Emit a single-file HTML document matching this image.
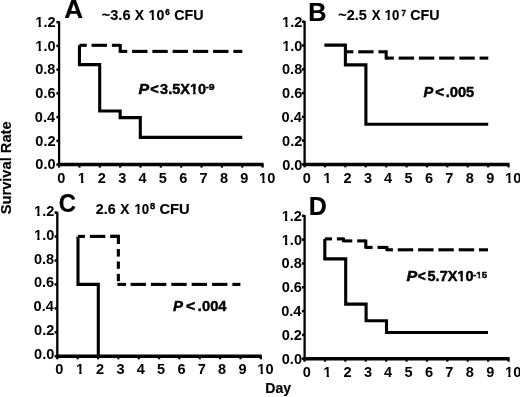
<!DOCTYPE html>
<html><head><meta charset="utf-8"><style>
html,body{margin:0;padding:0;background:#fff;}
body{width:520px;height:397px;overflow:hidden;}
svg{display:block;will-change:transform;}
text{font-family:"Liberation Sans", sans-serif;font-weight:bold;font-kerning:none;font-variant-ligatures:none;fill:#000;stroke:#000;stroke-width:0;}
.t{stroke-width:0.0px;} .ti{stroke-width:0.15px;} .p{stroke-width:0.45px;} .L{stroke-width:0.2px;} .ax{stroke-width:0.15px;} .sup{stroke-width:0.4px;}
</style></head><body>
<svg width="520" height="397" viewBox="0 0 520 397">
<rect width="520" height="397" fill="#fff"/>
<g stroke="#000" fill="#000">
<line x1="59.10" y1="21.36" x2="59.10" y2="166.35" stroke-width="2.3"/>
<line x1="57.95" y1="164.60" x2="263.60" y2="164.60" stroke-width="3.5"/>
<line x1="56.40" y1="164.60" x2="59.10" y2="164.60" stroke-width="2.5" stroke-linecap="butt"/>
<text x="35.36" y="169.40" font-size="14" textLength="20.24" lengthAdjust="spacingAndGlyphs" class="t">0.0</text>
<line x1="56.40" y1="140.86" x2="59.10" y2="140.86" stroke-width="2.5" stroke-linecap="butt"/>
<text x="35.34" y="145.66" font-size="14" textLength="20.24" lengthAdjust="spacingAndGlyphs" class="t">0.2</text>
<line x1="56.40" y1="117.12" x2="59.10" y2="117.12" stroke-width="2.5" stroke-linecap="butt"/>
<text x="34.84" y="121.92" font-size="14" textLength="20.24" lengthAdjust="spacingAndGlyphs" class="t">0.4</text>
<line x1="56.40" y1="93.38" x2="59.10" y2="93.38" stroke-width="2.5" stroke-linecap="butt"/>
<text x="35.29" y="98.18" font-size="14" textLength="20.24" lengthAdjust="spacingAndGlyphs" class="t">0.6</text>
<line x1="56.40" y1="69.64" x2="59.10" y2="69.64" stroke-width="2.5" stroke-linecap="butt"/>
<text x="35.21" y="74.44" font-size="14" textLength="20.24" lengthAdjust="spacingAndGlyphs" class="t">0.8</text>
<line x1="56.40" y1="45.90" x2="59.10" y2="45.90" stroke-width="2.5" stroke-linecap="butt"/>
<text x="35.36" y="50.70" font-size="14" textLength="20.24" lengthAdjust="spacingAndGlyphs" class="t">1.0</text>
<line x1="56.40" y1="22.16" x2="59.10" y2="22.16" stroke-width="2.5" stroke-linecap="butt"/>
<text x="35.34" y="26.96" font-size="14" textLength="20.24" lengthAdjust="spacingAndGlyphs" class="t">1.2</text>
<line x1="59.10" y1="164.60" x2="59.10" y2="167.60" stroke-width="2.2" stroke-linecap="butt"/>
<text x="57.16" y="183.10" font-size="14" textLength="8.10" lengthAdjust="spacingAndGlyphs" class="t">0</text>
<line x1="79.45" y1="164.60" x2="79.45" y2="167.60" stroke-width="2.2" stroke-linecap="butt"/>
<text x="77.85" y="183.10" font-size="14" textLength="8.10" lengthAdjust="spacingAndGlyphs" class="t">1</text>
<line x1="99.80" y1="164.60" x2="99.80" y2="167.60" stroke-width="2.2" stroke-linecap="butt"/>
<text x="97.89" y="183.10" font-size="14" textLength="8.10" lengthAdjust="spacingAndGlyphs" class="t">2</text>
<line x1="120.15" y1="164.60" x2="120.15" y2="167.60" stroke-width="2.2" stroke-linecap="butt"/>
<text x="118.30" y="183.10" font-size="14" textLength="8.10" lengthAdjust="spacingAndGlyphs" class="t">3</text>
<line x1="140.50" y1="164.60" x2="140.50" y2="167.60" stroke-width="2.2" stroke-linecap="butt"/>
<text x="138.48" y="183.10" font-size="14" textLength="8.10" lengthAdjust="spacingAndGlyphs" class="t">4</text>
<line x1="160.85" y1="164.60" x2="160.85" y2="167.60" stroke-width="2.2" stroke-linecap="butt"/>
<text x="158.88" y="183.10" font-size="14" textLength="8.10" lengthAdjust="spacingAndGlyphs" class="t">5</text>
<line x1="181.20" y1="164.60" x2="181.20" y2="167.60" stroke-width="2.2" stroke-linecap="butt"/>
<text x="179.25" y="183.10" font-size="14" textLength="8.10" lengthAdjust="spacingAndGlyphs" class="t">6</text>
<line x1="201.55" y1="164.60" x2="201.55" y2="167.60" stroke-width="2.2" stroke-linecap="butt"/>
<text x="199.61" y="183.10" font-size="14" textLength="8.10" lengthAdjust="spacingAndGlyphs" class="t">7</text>
<line x1="221.90" y1="164.60" x2="221.90" y2="167.60" stroke-width="2.2" stroke-linecap="butt"/>
<text x="219.94" y="183.10" font-size="14" textLength="8.10" lengthAdjust="spacingAndGlyphs" class="t">8</text>
<line x1="242.25" y1="164.60" x2="242.25" y2="167.60" stroke-width="2.2" stroke-linecap="butt"/>
<text x="240.32" y="183.10" font-size="14" textLength="8.10" lengthAdjust="spacingAndGlyphs" class="t">9</text>
<line x1="262.60" y1="164.60" x2="262.60" y2="167.60" stroke-width="2.2" stroke-linecap="butt"/>
<text x="259.14" y="183.10" font-size="14" textLength="16.20" lengthAdjust="spacingAndGlyphs" class="t">10</text>
<polyline points="79.45,45.20 79.45,64.60 99.70,64.60 99.70,111.00 120.15,111.00 120.15,117.60 140.30,117.60 140.30,137.40 242.30,137.40" fill="none" stroke-width="3.1" stroke-linejoin="miter" stroke-linecap="butt"/>
<line x1="79.45" y1="45.30" x2="86.75" y2="45.30" stroke-width="3.1" stroke-linecap="butt"/>
<line x1="91.60" y1="45.30" x2="107.00" y2="45.30" stroke-width="3.1" stroke-linecap="butt"/>
<line x1="111.85" y1="45.30" x2="120.20" y2="45.30" stroke-width="3.1" stroke-linecap="butt"/>
<line x1="120.20" y1="44.00" x2="120.20" y2="52.80" stroke-width="3.1" stroke-linecap="butt"/>
<line x1="120.20" y1="51.40" x2="127.25" y2="51.40" stroke-width="3.1" stroke-linecap="butt"/>
<line x1="132.10" y1="51.40" x2="147.50" y2="51.40" stroke-width="3.1" stroke-linecap="butt"/>
<line x1="152.35" y1="51.40" x2="167.75" y2="51.40" stroke-width="3.1" stroke-linecap="butt"/>
<line x1="172.60" y1="51.40" x2="188.00" y2="51.40" stroke-width="3.1" stroke-linecap="butt"/>
<line x1="192.85" y1="51.40" x2="208.25" y2="51.40" stroke-width="3.1" stroke-linecap="butt"/>
<line x1="213.10" y1="51.40" x2="228.50" y2="51.40" stroke-width="3.1" stroke-linecap="butt"/>
<line x1="233.35" y1="51.40" x2="242.30" y2="51.40" stroke-width="3.1" stroke-linecap="butt"/>
<line x1="304.60" y1="20.92" x2="304.60" y2="166.15" stroke-width="2.3"/>
<line x1="303.45" y1="164.40" x2="509.50" y2="164.40" stroke-width="3.5"/>
<line x1="301.90" y1="164.40" x2="304.60" y2="164.40" stroke-width="2.5" stroke-linecap="butt"/>
<text x="282.16" y="169.60" font-size="14" textLength="20.24" lengthAdjust="spacingAndGlyphs" class="t">0.0</text>
<line x1="301.90" y1="140.62" x2="304.60" y2="140.62" stroke-width="2.5" stroke-linecap="butt"/>
<text x="282.14" y="145.82" font-size="14" textLength="20.24" lengthAdjust="spacingAndGlyphs" class="t">0.2</text>
<line x1="301.90" y1="116.84" x2="304.60" y2="116.84" stroke-width="2.5" stroke-linecap="butt"/>
<text x="281.64" y="122.04" font-size="14" textLength="20.24" lengthAdjust="spacingAndGlyphs" class="t">0.4</text>
<line x1="301.90" y1="93.06" x2="304.60" y2="93.06" stroke-width="2.5" stroke-linecap="butt"/>
<text x="282.09" y="98.26" font-size="14" textLength="20.24" lengthAdjust="spacingAndGlyphs" class="t">0.6</text>
<line x1="301.90" y1="69.28" x2="304.60" y2="69.28" stroke-width="2.5" stroke-linecap="butt"/>
<text x="282.01" y="74.48" font-size="14" textLength="20.24" lengthAdjust="spacingAndGlyphs" class="t">0.8</text>
<line x1="301.90" y1="45.50" x2="304.60" y2="45.50" stroke-width="2.5" stroke-linecap="butt"/>
<text x="282.16" y="50.70" font-size="14" textLength="20.24" lengthAdjust="spacingAndGlyphs" class="t">1.0</text>
<line x1="301.90" y1="21.72" x2="304.60" y2="21.72" stroke-width="2.5" stroke-linecap="butt"/>
<text x="282.14" y="26.92" font-size="14" textLength="20.24" lengthAdjust="spacingAndGlyphs" class="t">1.2</text>
<line x1="304.60" y1="164.40" x2="304.60" y2="167.40" stroke-width="2.2" stroke-linecap="butt"/>
<text x="302.66" y="183.00" font-size="14" textLength="8.10" lengthAdjust="spacingAndGlyphs" class="t">0</text>
<line x1="324.99" y1="164.40" x2="324.99" y2="167.40" stroke-width="2.2" stroke-linecap="butt"/>
<text x="323.39" y="183.00" font-size="14" textLength="8.10" lengthAdjust="spacingAndGlyphs" class="t">1</text>
<line x1="345.38" y1="164.40" x2="345.38" y2="167.40" stroke-width="2.2" stroke-linecap="butt"/>
<text x="343.47" y="183.00" font-size="14" textLength="8.10" lengthAdjust="spacingAndGlyphs" class="t">2</text>
<line x1="365.77" y1="164.40" x2="365.77" y2="167.40" stroke-width="2.2" stroke-linecap="butt"/>
<text x="363.92" y="183.00" font-size="14" textLength="8.10" lengthAdjust="spacingAndGlyphs" class="t">3</text>
<line x1="386.16" y1="164.40" x2="386.16" y2="167.40" stroke-width="2.2" stroke-linecap="butt"/>
<text x="384.14" y="183.00" font-size="14" textLength="8.10" lengthAdjust="spacingAndGlyphs" class="t">4</text>
<line x1="406.55" y1="164.40" x2="406.55" y2="167.40" stroke-width="2.2" stroke-linecap="butt"/>
<text x="404.58" y="183.00" font-size="14" textLength="8.10" lengthAdjust="spacingAndGlyphs" class="t">5</text>
<line x1="426.94" y1="164.40" x2="426.94" y2="167.40" stroke-width="2.2" stroke-linecap="butt"/>
<text x="424.99" y="183.00" font-size="14" textLength="8.10" lengthAdjust="spacingAndGlyphs" class="t">6</text>
<line x1="447.33" y1="164.40" x2="447.33" y2="167.40" stroke-width="2.2" stroke-linecap="butt"/>
<text x="445.39" y="183.00" font-size="14" textLength="8.10" lengthAdjust="spacingAndGlyphs" class="t">7</text>
<line x1="467.72" y1="164.40" x2="467.72" y2="167.40" stroke-width="2.2" stroke-linecap="butt"/>
<text x="465.76" y="183.00" font-size="14" textLength="8.10" lengthAdjust="spacingAndGlyphs" class="t">8</text>
<line x1="488.11" y1="164.40" x2="488.11" y2="167.40" stroke-width="2.2" stroke-linecap="butt"/>
<text x="486.18" y="183.00" font-size="14" textLength="8.10" lengthAdjust="spacingAndGlyphs" class="t">9</text>
<line x1="508.50" y1="164.40" x2="508.50" y2="167.40" stroke-width="2.2" stroke-linecap="butt"/>
<text x="505.04" y="183.00" font-size="14" textLength="16.20" lengthAdjust="spacingAndGlyphs" class="t">10</text>
<polyline points="324.40,45.10 345.40,45.10 345.40,64.90 365.90,64.90 365.90,124.20 488.20,124.20" fill="none" stroke-width="3.1" stroke-linejoin="miter" stroke-linecap="butt"/>
<line x1="346.70" y1="51.80" x2="353.37" y2="51.80" stroke-width="3.1" stroke-linecap="butt"/>
<line x1="358.20" y1="51.80" x2="373.60" y2="51.80" stroke-width="3.1" stroke-linecap="butt"/>
<line x1="378.43" y1="51.80" x2="386.20" y2="51.80" stroke-width="3.1" stroke-linecap="butt"/>
<line x1="386.20" y1="50.30" x2="386.20" y2="59.60" stroke-width="3.1" stroke-linecap="butt"/>
<line x1="386.20" y1="58.10" x2="393.83" y2="58.10" stroke-width="3.1" stroke-linecap="butt"/>
<line x1="398.66" y1="58.10" x2="414.06" y2="58.10" stroke-width="3.1" stroke-linecap="butt"/>
<line x1="418.89" y1="58.10" x2="434.29" y2="58.10" stroke-width="3.1" stroke-linecap="butt"/>
<line x1="439.12" y1="58.10" x2="454.52" y2="58.10" stroke-width="3.1" stroke-linecap="butt"/>
<line x1="459.35" y1="58.10" x2="474.75" y2="58.10" stroke-width="3.1" stroke-linecap="butt"/>
<line x1="479.58" y1="58.10" x2="488.30" y2="58.10" stroke-width="3.1" stroke-linecap="butt"/>
<line x1="57.30" y1="211.80" x2="57.30" y2="358.05" stroke-width="2.3"/>
<line x1="56.15" y1="356.30" x2="261.80" y2="356.30" stroke-width="3.5"/>
<line x1="54.60" y1="356.30" x2="57.30" y2="356.30" stroke-width="2.5" stroke-linecap="butt"/>
<text x="34.06" y="359.30" font-size="14" textLength="20.24" lengthAdjust="spacingAndGlyphs" class="t">0.0</text>
<line x1="54.60" y1="332.35" x2="57.30" y2="332.35" stroke-width="2.5" stroke-linecap="butt"/>
<text x="34.04" y="335.35" font-size="14" textLength="20.24" lengthAdjust="spacingAndGlyphs" class="t">0.2</text>
<line x1="54.60" y1="308.40" x2="57.30" y2="308.40" stroke-width="2.5" stroke-linecap="butt"/>
<text x="33.54" y="311.40" font-size="14" textLength="20.24" lengthAdjust="spacingAndGlyphs" class="t">0.4</text>
<line x1="54.60" y1="284.45" x2="57.30" y2="284.45" stroke-width="2.5" stroke-linecap="butt"/>
<text x="33.99" y="287.45" font-size="14" textLength="20.24" lengthAdjust="spacingAndGlyphs" class="t">0.6</text>
<line x1="54.60" y1="260.50" x2="57.30" y2="260.50" stroke-width="2.5" stroke-linecap="butt"/>
<text x="33.91" y="263.50" font-size="14" textLength="20.24" lengthAdjust="spacingAndGlyphs" class="t">0.8</text>
<line x1="54.60" y1="236.55" x2="57.30" y2="236.55" stroke-width="2.5" stroke-linecap="butt"/>
<text x="34.06" y="239.55" font-size="14" textLength="20.24" lengthAdjust="spacingAndGlyphs" class="t">1.0</text>
<line x1="54.60" y1="212.60" x2="57.30" y2="212.60" stroke-width="2.5" stroke-linecap="butt"/>
<text x="34.04" y="215.60" font-size="14" textLength="20.24" lengthAdjust="spacingAndGlyphs" class="t">1.2</text>
<line x1="57.30" y1="356.30" x2="57.30" y2="359.30" stroke-width="2.2" stroke-linecap="butt"/>
<text x="55.36" y="374.20" font-size="14" textLength="8.10" lengthAdjust="spacingAndGlyphs" class="t">0</text>
<line x1="77.65" y1="356.30" x2="77.65" y2="359.30" stroke-width="2.2" stroke-linecap="butt"/>
<text x="76.05" y="374.20" font-size="14" textLength="8.10" lengthAdjust="spacingAndGlyphs" class="t">1</text>
<line x1="98.00" y1="356.30" x2="98.00" y2="359.30" stroke-width="2.2" stroke-linecap="butt"/>
<text x="96.09" y="374.20" font-size="14" textLength="8.10" lengthAdjust="spacingAndGlyphs" class="t">2</text>
<line x1="118.35" y1="356.30" x2="118.35" y2="359.30" stroke-width="2.2" stroke-linecap="butt"/>
<text x="116.50" y="374.20" font-size="14" textLength="8.10" lengthAdjust="spacingAndGlyphs" class="t">3</text>
<line x1="138.70" y1="356.30" x2="138.70" y2="359.30" stroke-width="2.2" stroke-linecap="butt"/>
<text x="136.68" y="374.20" font-size="14" textLength="8.10" lengthAdjust="spacingAndGlyphs" class="t">4</text>
<line x1="159.05" y1="356.30" x2="159.05" y2="359.30" stroke-width="2.2" stroke-linecap="butt"/>
<text x="157.08" y="374.20" font-size="14" textLength="8.10" lengthAdjust="spacingAndGlyphs" class="t">5</text>
<line x1="179.40" y1="356.30" x2="179.40" y2="359.30" stroke-width="2.2" stroke-linecap="butt"/>
<text x="177.45" y="374.20" font-size="14" textLength="8.10" lengthAdjust="spacingAndGlyphs" class="t">6</text>
<line x1="199.75" y1="356.30" x2="199.75" y2="359.30" stroke-width="2.2" stroke-linecap="butt"/>
<text x="197.81" y="374.20" font-size="14" textLength="8.10" lengthAdjust="spacingAndGlyphs" class="t">7</text>
<line x1="220.10" y1="356.30" x2="220.10" y2="359.30" stroke-width="2.2" stroke-linecap="butt"/>
<text x="218.14" y="374.20" font-size="14" textLength="8.10" lengthAdjust="spacingAndGlyphs" class="t">8</text>
<line x1="240.45" y1="356.30" x2="240.45" y2="359.30" stroke-width="2.2" stroke-linecap="butt"/>
<text x="238.52" y="374.20" font-size="14" textLength="8.10" lengthAdjust="spacingAndGlyphs" class="t">9</text>
<line x1="260.80" y1="356.30" x2="260.80" y2="359.30" stroke-width="2.2" stroke-linecap="butt"/>
<text x="257.34" y="374.20" font-size="14" textLength="16.20" lengthAdjust="spacingAndGlyphs" class="t">10</text>
<polyline points="78.00,236.40 78.00,284.40 98.30,284.40 98.30,356.20" fill="none" stroke-width="3.1" stroke-linejoin="miter" stroke-linecap="butt"/>
<line x1="78.00" y1="236.40" x2="84.95" y2="236.40" stroke-width="3.1" stroke-linecap="butt"/>
<line x1="89.90" y1="236.40" x2="105.30" y2="236.40" stroke-width="3.1" stroke-linecap="butt"/>
<line x1="110.25" y1="236.40" x2="118.40" y2="236.40" stroke-width="3.1" stroke-linecap="butt"/>
<polyline points="110.60,236.40 118.40,236.40 118.40,244.00" fill="none" stroke-width="3.1" stroke-linejoin="miter" stroke-linecap="butt"/>
<line x1="118.35" y1="249.00" x2="118.35" y2="256.60" stroke-width="3.1" stroke-linecap="butt"/>
<line x1="118.35" y1="261.50" x2="118.35" y2="268.80" stroke-width="3.1" stroke-linecap="butt"/>
<line x1="118.35" y1="273.90" x2="118.35" y2="281.20" stroke-width="3.1" stroke-linecap="butt"/>
<line x1="117.40" y1="284.40" x2="126.00" y2="284.40" stroke-width="3.1" stroke-linecap="butt"/>
<line x1="130.60" y1="284.40" x2="146.00" y2="284.40" stroke-width="3.1" stroke-linecap="butt"/>
<line x1="150.95" y1="284.40" x2="166.35" y2="284.40" stroke-width="3.1" stroke-linecap="butt"/>
<line x1="171.30" y1="284.40" x2="186.70" y2="284.40" stroke-width="3.1" stroke-linecap="butt"/>
<line x1="191.65" y1="284.40" x2="207.05" y2="284.40" stroke-width="3.1" stroke-linecap="butt"/>
<line x1="212.00" y1="284.40" x2="227.40" y2="284.40" stroke-width="3.1" stroke-linecap="butt"/>
<line x1="232.35" y1="284.40" x2="240.40" y2="284.40" stroke-width="3.1" stroke-linecap="butt"/>
<line x1="304.60" y1="214.98" x2="304.60" y2="360.45" stroke-width="2.3"/>
<line x1="303.45" y1="358.70" x2="509.50" y2="358.70" stroke-width="3.5"/>
<line x1="301.90" y1="358.70" x2="304.60" y2="358.70" stroke-width="2.5" stroke-linecap="butt"/>
<text x="281.76" y="363.70" font-size="14" textLength="20.24" lengthAdjust="spacingAndGlyphs" class="t">0.0</text>
<line x1="301.90" y1="334.88" x2="304.60" y2="334.88" stroke-width="2.5" stroke-linecap="butt"/>
<text x="281.74" y="339.88" font-size="14" textLength="20.24" lengthAdjust="spacingAndGlyphs" class="t">0.2</text>
<line x1="301.90" y1="311.06" x2="304.60" y2="311.06" stroke-width="2.5" stroke-linecap="butt"/>
<text x="281.24" y="316.06" font-size="14" textLength="20.24" lengthAdjust="spacingAndGlyphs" class="t">0.4</text>
<line x1="301.90" y1="287.24" x2="304.60" y2="287.24" stroke-width="2.5" stroke-linecap="butt"/>
<text x="281.69" y="292.24" font-size="14" textLength="20.24" lengthAdjust="spacingAndGlyphs" class="t">0.6</text>
<line x1="301.90" y1="263.42" x2="304.60" y2="263.42" stroke-width="2.5" stroke-linecap="butt"/>
<text x="281.61" y="268.42" font-size="14" textLength="20.24" lengthAdjust="spacingAndGlyphs" class="t">0.8</text>
<line x1="301.90" y1="239.60" x2="304.60" y2="239.60" stroke-width="2.5" stroke-linecap="butt"/>
<text x="281.76" y="244.60" font-size="14" textLength="20.24" lengthAdjust="spacingAndGlyphs" class="t">1.0</text>
<line x1="301.90" y1="215.78" x2="304.60" y2="215.78" stroke-width="2.5" stroke-linecap="butt"/>
<text x="281.74" y="220.78" font-size="14" textLength="20.24" lengthAdjust="spacingAndGlyphs" class="t">1.2</text>
<line x1="304.60" y1="358.70" x2="304.60" y2="361.70" stroke-width="2.2" stroke-linecap="butt"/>
<text x="302.66" y="376.50" font-size="14" textLength="8.10" lengthAdjust="spacingAndGlyphs" class="t">0</text>
<line x1="324.99" y1="358.70" x2="324.99" y2="361.70" stroke-width="2.2" stroke-linecap="butt"/>
<text x="323.39" y="376.50" font-size="14" textLength="8.10" lengthAdjust="spacingAndGlyphs" class="t">1</text>
<line x1="345.38" y1="358.70" x2="345.38" y2="361.70" stroke-width="2.2" stroke-linecap="butt"/>
<text x="343.47" y="376.50" font-size="14" textLength="8.10" lengthAdjust="spacingAndGlyphs" class="t">2</text>
<line x1="365.77" y1="358.70" x2="365.77" y2="361.70" stroke-width="2.2" stroke-linecap="butt"/>
<text x="363.92" y="376.50" font-size="14" textLength="8.10" lengthAdjust="spacingAndGlyphs" class="t">3</text>
<line x1="386.16" y1="358.70" x2="386.16" y2="361.70" stroke-width="2.2" stroke-linecap="butt"/>
<text x="384.14" y="376.50" font-size="14" textLength="8.10" lengthAdjust="spacingAndGlyphs" class="t">4</text>
<line x1="406.55" y1="358.70" x2="406.55" y2="361.70" stroke-width="2.2" stroke-linecap="butt"/>
<text x="404.58" y="376.50" font-size="14" textLength="8.10" lengthAdjust="spacingAndGlyphs" class="t">5</text>
<line x1="426.94" y1="358.70" x2="426.94" y2="361.70" stroke-width="2.2" stroke-linecap="butt"/>
<text x="424.99" y="376.50" font-size="14" textLength="8.10" lengthAdjust="spacingAndGlyphs" class="t">6</text>
<line x1="447.33" y1="358.70" x2="447.33" y2="361.70" stroke-width="2.2" stroke-linecap="butt"/>
<text x="445.39" y="376.50" font-size="14" textLength="8.10" lengthAdjust="spacingAndGlyphs" class="t">7</text>
<line x1="467.72" y1="358.70" x2="467.72" y2="361.70" stroke-width="2.2" stroke-linecap="butt"/>
<text x="465.76" y="376.50" font-size="14" textLength="8.10" lengthAdjust="spacingAndGlyphs" class="t">8</text>
<line x1="488.11" y1="358.70" x2="488.11" y2="361.70" stroke-width="2.2" stroke-linecap="butt"/>
<text x="486.18" y="376.50" font-size="14" textLength="8.10" lengthAdjust="spacingAndGlyphs" class="t">9</text>
<line x1="508.50" y1="358.70" x2="508.50" y2="361.70" stroke-width="2.2" stroke-linecap="butt"/>
<text x="505.04" y="376.50" font-size="14" textLength="16.20" lengthAdjust="spacingAndGlyphs" class="t">10</text>
<polyline points="324.80,238.90 324.80,258.90 345.70,258.90 345.70,304.10 366.10,304.10 366.10,320.70 386.50,320.70 386.50,332.50 488.00,332.50" fill="none" stroke-width="3.1" stroke-linejoin="miter" stroke-linecap="butt"/>
<line x1="324.80" y1="238.90" x2="332.00" y2="238.90" stroke-width="3.1" stroke-linecap="butt"/>
<line x1="336.90" y1="238.90" x2="343.50" y2="238.90" stroke-width="3.1" stroke-linecap="butt"/>
<line x1="343.50" y1="237.60" x2="343.50" y2="242.20" stroke-width="3.1" stroke-linecap="butt"/>
<line x1="343.50" y1="240.90" x2="352.30" y2="240.90" stroke-width="3.1" stroke-linecap="butt"/>
<line x1="357.20" y1="240.90" x2="365.80" y2="240.90" stroke-width="3.1" stroke-linecap="butt"/>
<line x1="365.80" y1="239.60" x2="365.80" y2="248.70" stroke-width="3.1" stroke-linecap="butt"/>
<line x1="365.80" y1="247.40" x2="372.60" y2="247.40" stroke-width="3.1" stroke-linecap="butt"/>
<line x1="377.50" y1="247.40" x2="386.90" y2="247.40" stroke-width="3.1" stroke-linecap="butt"/>
<line x1="386.90" y1="246.10" x2="386.90" y2="251.10" stroke-width="3.1" stroke-linecap="butt"/>
<line x1="386.90" y1="249.80" x2="392.90" y2="249.80" stroke-width="3.1" stroke-linecap="butt"/>
<line x1="397.80" y1="249.80" x2="413.20" y2="249.80" stroke-width="3.1" stroke-linecap="butt"/>
<line x1="418.10" y1="249.80" x2="433.50" y2="249.80" stroke-width="3.1" stroke-linecap="butt"/>
<line x1="438.40" y1="249.80" x2="453.80" y2="249.80" stroke-width="3.1" stroke-linecap="butt"/>
<line x1="458.70" y1="249.80" x2="474.10" y2="249.80" stroke-width="3.1" stroke-linecap="butt"/>
<line x1="479.00" y1="249.80" x2="488.00" y2="249.80" stroke-width="3.1" stroke-linecap="butt"/>
<text x="64.15" y="17.80" font-size="25.8" textLength="18.84" lengthAdjust="spacingAndGlyphs" class="L">A</text>
<text x="308.31" y="20.90" font-size="25.8" textLength="18.24" lengthAdjust="spacingAndGlyphs" class="L">B</text>
<text x="58.82" y="212.30" font-size="25.8" textLength="17.23" lengthAdjust="spacingAndGlyphs" class="L">C</text>
<text x="308.82" y="215.00" font-size="25.8" textLength="18.13" lengthAdjust="spacingAndGlyphs" class="L">D</text>
<text x="101.72" y="19.80" font-size="14" textLength="28.80" lengthAdjust="spacingAndGlyphs" class="ti">~3.6</text>
<text x="134.68" y="19.80" font-size="14" textLength="9.24" lengthAdjust="spacingAndGlyphs" class="ti">X</text>
<text x="148.61" y="19.80" font-size="14" textLength="15.66" lengthAdjust="spacingAndGlyphs" class="ti">10</text>
<text x="165.20" y="14.60" font-size="8.8" textLength="4.49" lengthAdjust="spacingAndGlyphs" class="sup">6</text>
<text x="174.31" y="19.80" font-size="14" textLength="29.36" lengthAdjust="spacingAndGlyphs" class="ti">CFU</text>
<text x="338.33" y="20.00" font-size="14" textLength="28.47" lengthAdjust="spacingAndGlyphs" class="ti">~2.5</text>
<text x="371.68" y="20.00" font-size="14" textLength="8.73" lengthAdjust="spacingAndGlyphs" class="ti">X</text>
<text x="384.67" y="20.00" font-size="14" textLength="14.67" lengthAdjust="spacingAndGlyphs" class="ti">10</text>
<text x="401.45" y="15.50" font-size="8.8" textLength="4.50" lengthAdjust="spacingAndGlyphs" class="sup">7</text>
<text x="410.21" y="20.00" font-size="14" textLength="29.46" lengthAdjust="spacingAndGlyphs" class="ti">CFU</text>
<text x="95.70" y="213.90" font-size="14" textLength="19.91" lengthAdjust="spacingAndGlyphs" class="ti">2.6</text>
<text x="120.18" y="213.90" font-size="14" textLength="9.14" lengthAdjust="spacingAndGlyphs" class="ti">X</text>
<text x="134.47" y="213.90" font-size="14" textLength="14.67" lengthAdjust="spacingAndGlyphs" class="ti">10</text>
<text x="150.00" y="209.20" font-size="8.8" textLength="5.18" lengthAdjust="spacingAndGlyphs" class="sup">8</text>
<text x="159.40" y="213.90" font-size="14" textLength="30.30" lengthAdjust="spacingAndGlyphs" class="ti">CFU</text>
<text x="138.52" y="93.60" font-size="15" textLength="10.66" lengthAdjust="spacingAndGlyphs" font-style="italic" class="p">P</text>
<text x="150.19" y="93.60" font-size="15" textLength="8.50" lengthAdjust="spacingAndGlyphs" class="p">&lt;</text>
<text x="160.07" y="93.60" font-size="15" textLength="46.03" lengthAdjust="spacingAndGlyphs" class="p">3.5X10</text>
<text x="205.65" y="89.50" font-size="8.8" textLength="3.02" lengthAdjust="spacingAndGlyphs" class="sup">-</text>
<text x="208.83" y="89.50" font-size="8.8" textLength="5.86" lengthAdjust="spacingAndGlyphs" class="sup">9</text>
<text x="423.44" y="97.20" font-size="15" textLength="9.74" lengthAdjust="spacingAndGlyphs" font-style="italic" class="p">P</text>
<text x="435.36" y="97.20" font-size="15" textLength="8.97" lengthAdjust="spacingAndGlyphs" class="p">&lt;</text>
<text x="445.70" y="97.20" font-size="15" textLength="28.61" lengthAdjust="spacingAndGlyphs" class="p">.005</text>
<text x="173.14" y="310.60" font-size="15" textLength="10.04" lengthAdjust="spacingAndGlyphs" font-style="italic" class="p">P</text>
<text x="185.93" y="310.60" font-size="15" textLength="9.32" lengthAdjust="spacingAndGlyphs" class="p">&lt;</text>
<text x="197.80" y="310.60" font-size="15" textLength="28.78" lengthAdjust="spacingAndGlyphs" class="p">.004</text>
<text x="406.42" y="281.30" font-size="15" textLength="10.76" lengthAdjust="spacingAndGlyphs" font-style="italic" class="p">P</text>
<text x="417.82" y="281.30" font-size="15" textLength="8.04" lengthAdjust="spacingAndGlyphs" class="p">&lt;</text>
<text x="427.55" y="281.30" font-size="15" textLength="45.94" lengthAdjust="spacingAndGlyphs" class="p">5.7X10</text>
<text x="473.00" y="277.50" font-size="8.8" textLength="3.41" lengthAdjust="spacingAndGlyphs" class="sup">-</text>
<text x="476.39" y="277.50" font-size="8.8" textLength="10.78" lengthAdjust="spacingAndGlyphs" class="sup">15</text>
<text x="-0.42" y="0" font-size="14.3" textLength="92.92" lengthAdjust="spacingAndGlyphs" transform="translate(10.7,213.9) rotate(-90)" class="ax">Survival Rate</text>
<text x="265.36" y="393.30" font-size="14.8" textLength="25.82" lengthAdjust="spacingAndGlyphs" class="ax">Day</text>
<rect x="35.78" y="46.50" width="2.77" height="5.20" fill="#fff" stroke="none"/>
<rect x="40.95" y="46.50" width="2.50" height="5.20" fill="#fff" stroke="none"/>
<rect x="35.77" y="22.76" width="2.77" height="5.20" fill="#fff" stroke="none"/>
<rect x="40.94" y="22.76" width="2.50" height="5.20" fill="#fff" stroke="none"/>
<rect x="78.00" y="178.90" width="3.04" height="5.20" fill="#fff" stroke="none"/>
<rect x="83.44" y="178.90" width="2.56" height="5.20" fill="#fff" stroke="none"/>
<rect x="259.57" y="178.90" width="2.77" height="5.20" fill="#fff" stroke="none"/>
<rect x="264.74" y="178.90" width="2.50" height="5.20" fill="#fff" stroke="none"/>
<rect x="282.58" y="46.50" width="2.77" height="5.20" fill="#fff" stroke="none"/>
<rect x="287.75" y="46.50" width="2.50" height="5.20" fill="#fff" stroke="none"/>
<rect x="282.57" y="22.72" width="2.77" height="5.20" fill="#fff" stroke="none"/>
<rect x="287.74" y="22.72" width="2.50" height="5.20" fill="#fff" stroke="none"/>
<rect x="323.81" y="178.80" width="2.77" height="5.20" fill="#fff" stroke="none"/>
<rect x="328.98" y="178.80" width="2.50" height="5.20" fill="#fff" stroke="none"/>
<rect x="505.00" y="178.80" width="3.24" height="5.20" fill="#fff" stroke="none"/>
<rect x="510.64" y="178.80" width="2.50" height="5.20" fill="#fff" stroke="none"/>
<rect x="34.00" y="235.35" width="3.26" height="5.20" fill="#fff" stroke="none"/>
<rect x="39.65" y="235.35" width="2.50" height="5.20" fill="#fff" stroke="none"/>
<rect x="34.00" y="211.40" width="3.24" height="5.20" fill="#fff" stroke="none"/>
<rect x="39.64" y="211.40" width="2.50" height="5.20" fill="#fff" stroke="none"/>
<rect x="76.00" y="370.00" width="3.24" height="5.20" fill="#fff" stroke="none"/>
<rect x="81.64" y="370.00" width="2.50" height="5.20" fill="#fff" stroke="none"/>
<rect x="257.77" y="370.00" width="2.77" height="5.20" fill="#fff" stroke="none"/>
<rect x="262.94" y="370.00" width="2.50" height="5.20" fill="#fff" stroke="none"/>
<rect x="282.00" y="240.40" width="2.96" height="5.20" fill="#fff" stroke="none"/>
<rect x="287.35" y="240.40" width="2.65" height="5.20" fill="#fff" stroke="none"/>
<rect x="282.00" y="216.58" width="2.94" height="5.20" fill="#fff" stroke="none"/>
<rect x="287.34" y="216.58" width="2.66" height="5.20" fill="#fff" stroke="none"/>
<rect x="323.81" y="372.30" width="2.77" height="5.20" fill="#fff" stroke="none"/>
<rect x="328.98" y="372.30" width="2.50" height="5.20" fill="#fff" stroke="none"/>
<rect x="505.00" y="372.30" width="3.24" height="5.20" fill="#fff" stroke="none"/>
<rect x="510.64" y="372.30" width="2.50" height="5.20" fill="#fff" stroke="none"/>
<rect x="149.00" y="15.60" width="2.70" height="5.20" fill="#fff" stroke="none"/>
<rect x="154.03" y="15.60" width="2.41" height="5.20" fill="#fff" stroke="none"/>
<rect x="385.00" y="15.80" width="2.55" height="5.20" fill="#fff" stroke="none"/>
<rect x="389.76" y="15.80" width="2.25" height="5.20" fill="#fff" stroke="none"/>
<rect x="134.86" y="209.70" width="2.49" height="5.20" fill="#fff" stroke="none"/>
<rect x="139.56" y="209.70" width="2.44" height="5.20" fill="#fff" stroke="none"/>
<rect x="190.00" y="89.10" width="3.13" height="5.50" fill="#fff" stroke="none"/>
<rect x="195.52" y="89.10" width="2.49" height="5.50" fill="#fff" stroke="none"/>
<rect x="457.80" y="276.80" width="2.76" height="5.50" fill="#fff" stroke="none"/>
<rect x="462.94" y="276.80" width="2.49" height="5.50" fill="#fff" stroke="none"/>
<rect x="476.67" y="274.86" width="1.78" height="3.64" fill="#fff" stroke="none"/>
<rect x="480.18" y="274.86" width="1.82" height="3.64" fill="#fff" stroke="none"/>
</g>
</svg>
</body></html>
